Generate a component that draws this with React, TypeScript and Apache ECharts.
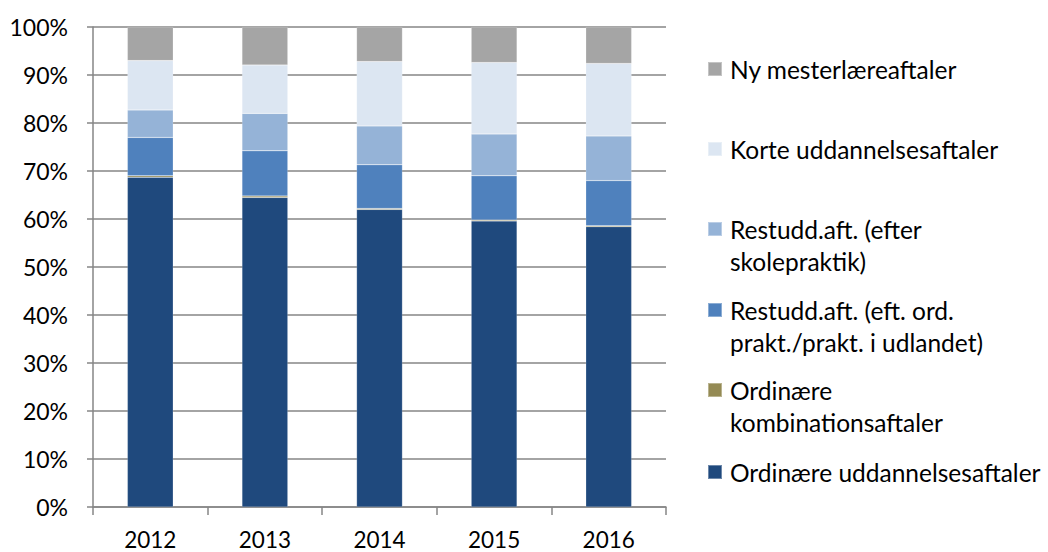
import React, { useEffect, useRef } from "react";
import * as echarts from "echarts";

const categories = ["2012", "2013", "2014", "2015", "2016"];
const ordinaereUdd = [68.7, 64.5, 62.0, 59.6, 58.4];
const ordinaereKomb = [0.3, 0.3, 0.2, 0.2, 0.2];
const restOrd = [8.0, 9.4, 9.1, 9.2, 9.4];
const restSkole = [5.7, 7.8, 8.1, 8.7, 9.3];
const korte = [10.3, 10.1, 13.4, 14.9, 15.1];
const nyMester = [7.0, 7.9, 7.2, 7.4, 7.6];

const seriesNames = [
  "Ordinære uddannelsesaftaler",
  "Ordinære kombinationsaftaler",
  "Restudd.aft. (eft. ord. prakt./prakt. i udlandet)",
  "Restudd.aft. (efter skolepraktik)",
  "Korte uddannelsesaftaler",
  "Ny mesterlæreaftaler",
];
const legendLabels = [
  "Ordinære uddannelsesaftaler",
  "Ordinære\nkombinationsaftaler",
  "Restudd.aft. (eft. ord.\nprakt./prakt. i udlandet)",
  "Restudd.aft. (efter\nskolepraktik)",
  "Korte uddannelsesaftaler",
  "Ny mesterlæreaftaler",
];
const seriesData = [ordinaereUdd, ordinaereKomb, restOrd, restSkole, korte, nyMester];
const colors = ["#1F497D", "#948A54", "#4F81BD", "#95B3D7", "#DCE6F2", "#A5A5A5"];
const legendCenters = [472, 390, 310, 229, 149, 69];

const FONT = "Lato";

export default function App() {
  const ref = useRef<HTMLDivElement>(null);
  useEffect(() => {
    if (!ref.current) return;
    const chart = echarts.init(ref.current, null, { renderer: "svg" });
    const legends = seriesNames.map((name, i) => {
      const twoLine = legendLabels[i].includes("\n");
      const c = legendCenters[i];
      return {
        orient: "vertical",
        left: 707,
        top: twoLine ? c - 48 : c - 16,
        padding: 0,
        itemWidth: 14,
        itemHeight: 14,
        icon: "rect",
        selectedMode: false,
        data: [name],
        formatter: () => (twoLine ? "\n" + legendLabels[i] : legendLabels[i]),
        textStyle: {
          fontFamily: FONT,
          fontSize: 24.5,
          color: "#000",
          lineHeight: 32,
          padding: [0, 0, 0, 3],
        },
      };
    });
    chart.setOption({
      animation: false,
      backgroundColor: "#fff",
      color: colors,
      grid: { left: 93, right: 382, top: 27, bottom: 45, containLabel: false },
      legend: legends,
      xAxis: {
        type: "category",
        data: categories,
        boundaryGap: true,
        axisLine: { show: true, lineStyle: { color: "#868686", width: 1.5 } },
        axisTick: { show: true, length: 8, alignWithLabel: false, lineStyle: { color: "#868686", width: 1.5 } },
        axisLabel: { fontFamily: FONT, fontSize: 22.5, color: "#000", margin: 21 },
      },
      yAxis: {
        type: "value",
        min: 0,
        max: 100,
        interval: 10,
        axisLine: { show: true, lineStyle: { color: "#868686", width: 1.5 } },
        axisTick: { show: true, length: 6, lineStyle: { color: "#868686", width: 1.5 } },
        axisLabel: { fontFamily: FONT, fontSize: 23, color: "#000", margin: 25, formatter: "{value}%" },
        splitLine: { show: true, lineStyle: { color: "#868686", width: 1.5 } },
      },
      series: seriesNames.map((name, i) => ({
        name,
        type: "bar",
        stack: "total",
        barWidth: "40%",
        data: seriesData[i],
        itemStyle: { color: colors[i], borderColor: "rgba(255,255,255,0.35)", borderWidth: 0.5 },
      })),
    });
    return () => chart.dispose();
  }, []);
  return <div ref={ref} style={{ width: 1048, height: 552, position: "absolute", left: 0, top: 0 }} />;
}
